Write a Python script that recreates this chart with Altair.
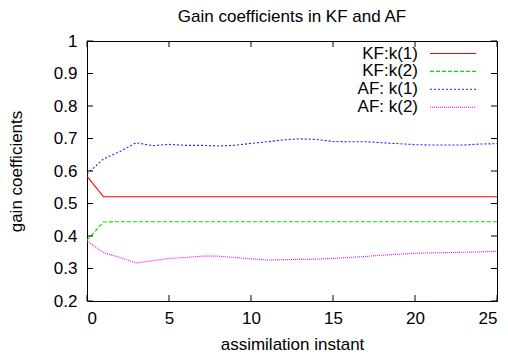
import altair as alt
import pandas as pd

# ---- data ----
instants = list(range(26))
kf_k1 = [0.584, 0.521, 0.521, 0.521, 0.521, 0.521, 0.521, 0.521, 0.521, 0.521,
         0.521, 0.521, 0.521, 0.521, 0.521, 0.521, 0.521, 0.521, 0.521, 0.521,
         0.521, 0.521, 0.521, 0.521, 0.521, 0.521]
kf_k2 = [0.387, 0.443, 0.444, 0.444, 0.444, 0.444, 0.444, 0.444, 0.444, 0.444,
         0.444, 0.444, 0.444, 0.444, 0.444, 0.444, 0.444, 0.444, 0.444, 0.444,
         0.444, 0.444, 0.444, 0.444, 0.444, 0.444]
af_k1 = [0.591, 0.637, 0.660, 0.687, 0.678, 0.682, 0.679, 0.679, 0.677, 0.679,
         0.685, 0.690, 0.696, 0.699, 0.697, 0.691, 0.690, 0.690, 0.687, 0.684,
         0.681, 0.680, 0.680, 0.680, 0.683, 0.684]
af_k2 = [0.385, 0.349, 0.334, 0.317, 0.324, 0.331, 0.334, 0.338, 0.338, 0.334,
         0.330, 0.326, 0.327, 0.328, 0.329, 0.331, 0.334, 0.337, 0.341, 0.344,
         0.347, 0.348, 0.349, 0.350, 0.351, 0.353]

series_names = ["KF:k(1)", "KF:k(2)", "AF: k(1)", "AF: k(2)"]
series_values = [kf_k1, kf_k2, af_k1, af_k2]
series_colors = ["#ff0000", "#00e000", "#2020ff", "#ff00ff"]
series_dashes = [[1, 0], [4, 2], [2, 2], [1, 1]]

x_ticks = [0, 5, 10, 15, 20, 25]
y_ticks = [0.2, 0.3, 0.4, 0.5, 0.6, 0.7, 0.8, 0.9, 1.0]

title_text = "Gain coefficients in KF and AF"
x_title = "assimilation instant"
y_title = "gain coefficients"

W, H = 410, 260
FONT = "Liberation Sans"
FS = 17

rows = []
for name, vals in zip(series_names, series_values):
    for x, v in zip(instants, vals):
        rows.append({"x": x, "v": v, "series": name})
df = pd.DataFrame(rows)

xscale = alt.Scale(domain=[0, 25], nice=False, zero=False)
yscale = alt.Scale(domain=[0.2, 1.0], nice=False, zero=False)
color_scale = alt.Scale(domain=series_names, range=series_colors)
dash_scale = alt.Scale(domain=series_names, range=series_dashes)

x_axis = alt.Axis(values=x_ticks, ticks=False, domain=False, grid=False,
                  labelOverlap=False, labelFontSize=FS, labelPadding=9,
                  labelFont=FONT, labelColor="black", title=x_title,
                  titleFont=FONT, titleFontSize=FS, titleFontWeight="normal",
                  titlePadding=10, titleColor="black")
y_axis = alt.Axis(values=y_ticks, ticks=False, domain=False, grid=False,
                  labelOverlap=False, format="~g", labelFontSize=FS,
                  labelPadding=10, labelFont=FONT, labelColor="black",
                  title=y_title, titleFont=FONT, titleFontSize=FS,
                  titleFontWeight="normal", titlePadding=28, titleColor="black")

lines = alt.Chart(df).mark_line(strokeWidth=1.1, clip=True).encode(
    x=alt.X("x:Q", scale=xscale, axis=x_axis),
    y=alt.Y("v:Q", scale=yscale, axis=y_axis),
    color=alt.Color("series:N", scale=color_scale, legend=None),
    strokeDash=alt.StrokeDash("series:N", scale=dash_scale, legend=None),
)

ydf = pd.DataFrame({"t": y_ticks})
xdf = pd.DataFrame({"t": x_ticks})

ytick_l = alt.Chart(ydf).mark_rule(color="black", strokeWidth=1).encode(
    y=alt.Y("t:Q", scale=yscale, axis=y_axis), x=alt.value(0), x2=alt.value(6))
ytick_r = alt.Chart(ydf).mark_rule(color="black", strokeWidth=1).encode(
    y=alt.Y("t:Q", scale=yscale, axis=y_axis), x=alt.value(W - 6), x2=alt.value(W))
xtick_b = alt.Chart(xdf).mark_rule(color="black", strokeWidth=1).encode(
    x=alt.X("t:Q", scale=xscale, axis=x_axis), y=alt.value(H - 6), y2=alt.value(H))
xtick_t = alt.Chart(xdf).mark_rule(color="black", strokeWidth=1).encode(
    x=alt.X("t:Q", scale=xscale, axis=x_axis), y=alt.value(0), y2=alt.value(6))

# legend (manual, gnuplot style)
leg_y0, leg_dy = 12.5, 17.9
legend_layers = []
for i, name in enumerate(series_names):
    yy = leg_y0 + i * leg_dy
    one = pd.DataFrame({"series": [name]})
    legend_layers.append(
        alt.Chart(one).mark_text(align="right", baseline="middle", fontSize=FS,
                                 font=FONT, color="black").encode(
            text="series:N", x=alt.value(331), y=alt.value(yy)))
    legend_layers.append(
        alt.Chart(one).mark_rule(strokeWidth=1.1).encode(
            x=alt.value(343), x2=alt.value(389), y=alt.value(yy),
            color=alt.Color("series:N", scale=color_scale, legend=None),
            strokeDash=alt.StrokeDash("series:N", scale=dash_scale, legend=None)))

title = alt.Chart(pd.DataFrame({"t": [title_text]})).mark_text(
    align="center", baseline="alphabetic", fontSize=FS, font=FONT, color="black"
).encode(text="t:N", x=alt.value(W / 2), y=alt.value(-19))

chart = alt.layer(lines, ytick_l, ytick_r, xtick_b, xtick_t, title,
                  *legend_layers).properties(
    width=W, height=H,
    autosize=alt.AutoSizeParams(type="none"),
    padding={"left": 79, "top": 33, "right": 3, "bottom": 56},
).configure_view(stroke="black", strokeWidth=1)

chart.save("out.html", embed_options={"renderer": "svg", "actions": False})
